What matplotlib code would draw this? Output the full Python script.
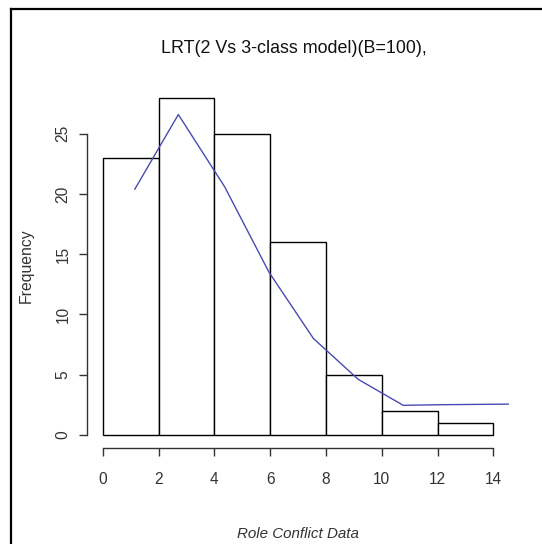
import matplotlib
matplotlib.use('Agg')
import matplotlib.pyplot as plt
from matplotlib.lines import Line2D

# histogram bins and counts
bin_edges = [0, 2, 4, 6, 8, 10, 12, 14]
counts = [23, 28, 25, 16, 5, 2, 1]

# overlaid blue curve
curve_x = [1.15, 2.71, 4.37, 5.96, 7.55, 9.16, 10.77, 12.1, 14.57]
curve_y = [20.4, 26.6, 20.6, 13.5, 8.0, 4.6, 2.45, 2.5, 2.55]

x_ticks = [0, 2, 4, 6, 8, 10, 12, 14]
y_ticks = [0, 5, 10, 15, 20, 25]

W, H = 542, 544
fig = plt.figure(figsize=(W / 100, H / 100), dpi=100)
fig.patch.set_facecolor('white')

ax = fig.add_axes([87.1 / W, 1 - 448.3 / H, (509 - 87.1) / W, (448.3 - 84.2) / H])
ax.set_facecolor('none')

widths = [bin_edges[i + 1] - bin_edges[i] for i in range(len(counts))]
ax.bar(bin_edges[:-1], counts, width=widths, align='edge', color='white',
       edgecolor='black', linewidth=1.0, zorder=2)
ax.plot(curve_x, curve_y, color='#4a4ab4', linewidth=1.0, zorder=3)

ax.set_xlim(-0.56, 14.56)
ax.set_ylim(-1.12, 29.12)

for s in ['top', 'right']:
    ax.spines[s].set_visible(False)
ax.spines['left'].set_bounds(0, 25)
ax.spines['bottom'].set_bounds(0, 14)
for s in ['left', 'bottom']:
    ax.spines[s].set_color('#333333')
    ax.spines[s].set_linewidth(1.0)

ax.set_xticks(x_ticks)
ax.set_yticks(y_ticks)
ax.tick_params(axis='both', direction='out', length=6, width=1.0, color='#333333',
               labelsize=11.2, labelcolor='#333333')
ax.tick_params(axis='x', pad=11)
ax.tick_params(axis='y', pad=6)
for lab in ax.get_yticklabels():
    lab.set_rotation(90)
    lab.set_va('center')

fig.text(294 / W, 1 - 48.4 / H, 'LRT(2 Vs 3-class model)(B=100),', ha='center', va='center',
         fontsize=12.9, family='Liberation Sans', color='#111111')
fig.text(26 / W, 1 - 266 / H, 'Frequency', ha='center', va='center', rotation=90,
         fontsize=11.3, family='Liberation Sans', color='#333333')
fig.text(298 / W, 1 - 534 / H, 'Role Conflict Data', ha='center', va='center',
         fontsize=10.9, family='Liberation Sans', style='italic', color='#333333')

for lab in ax.get_xticklabels() + ax.get_yticklabels():
    lab.set_family('Liberation Sans')

# outer frame (left and top edges only)
fig.add_artist(Line2D([11 / W, 11 / W], [0, 1 - 8.5 / H], transform=fig.transFigure,
                      color='black', linewidth=1.6))
fig.add_artist(Line2D([11 / W, 1], [1 - 8.5 / H, 1 - 8.5 / H], transform=fig.transFigure,
                      color='black', linewidth=1.6))

fig.savefig('out.png', dpi=100, facecolor='white')
